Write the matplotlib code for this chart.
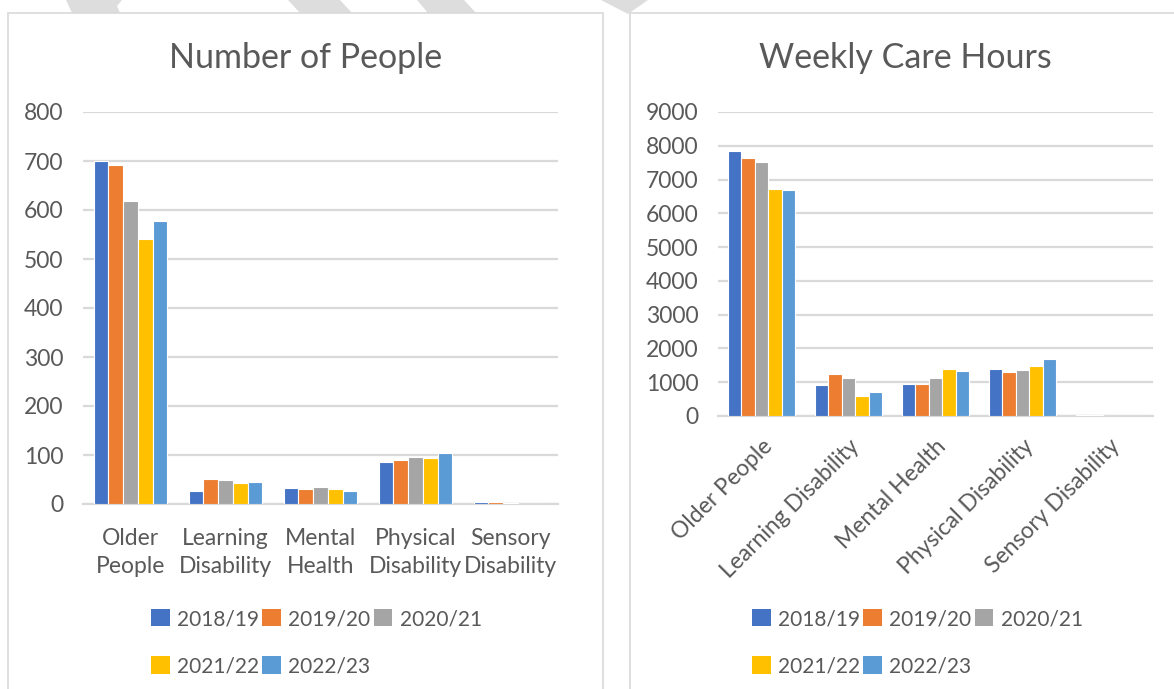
import numpy as np
import matplotlib
matplotlib.use("Agg")
import matplotlib.pyplot as plt
from matplotlib.patches import Rectangle, Polygon, Patch

#######################################################
CATEGORIES = ["Older People", "Learning Disability", "Mental Health",
              "Physical Disability", "Sensory Disability"]
LEFT_LABELS = ["Older\nPeople", "Learning\nDisability", "Mental\nHealth",
               "Physical\nDisability", "Sensory\nDisability"]
YEARS = ["2018/19", "2019/20", "2020/21", "2021/22", "2022/23"]
COLORS = ["#4472C4", "#ED7D31", "#A5A5A5", "#FFC000", "#5B9BD5"]

# number of people, one list per year (order of CATEGORIES)
people_1819 = [699, 26, 32, 85, 5]
people_1920 = [691, 52, 30, 89, 5]
people_2021 = [618, 49, 34, 96, 3]
people_2122 = [540, 43, 30, 94, 0]
people_2223 = [577, 44, 26, 105, 0]

# weekly care hours
hours_1819 = [7850, 930, 960, 1390, 20]
hours_1920 = [7650, 1240, 940, 1290, 15]
hours_2021 = [7520, 1120, 1120, 1360, 10]
hours_2122 = [6720, 580, 1380, 1480, 0]
hours_2223 = [6700, 710, 1330, 1700, 0]
#######################################################

TEXT = "#595959"
GRID = "#D9D9D9"
W, H = 1174, 689
FS = 16.5

plt.rcParams['font.family'] = ['Lato', 'DejaVu Sans']


def px(x, y):
    # pixel coords (top-left origin) -> figure fraction
    return x / W, 1 - y / H


def draw_bars(ax, series, labels, ymax, step, rotate):
    x = np.arange(len(CATEGORIES))
    bw = 0.155
    for i, (vals, color, year) in enumerate(zip(series, COLORS, YEARS)):
        ax.bar(x + (i - 2) * bw, vals, width=bw, color=color,
               edgecolor="white", linewidth=0.8, label=year, zorder=3)
    ax.set_xlim(-0.5, len(CATEGORIES) - 0.5)
    ax.set_ylim(0, ymax)
    ax.set_yticks(np.arange(0, ymax + 1, step))
    ax.yaxis.grid(True, color=GRID, linewidth=1.6, zorder=0)
    for s in ["top", "right", "left"]:
        ax.spines[s].set_visible(False)
    ax.spines["bottom"].set_color(GRID)
    ax.spines["bottom"].set_linewidth(1.6)
    ax.tick_params(axis="both", length=0, colors=TEXT, labelsize=FS)
    ax.set_xticks(x)
    if rotate:
        ax.set_xticklabels(labels, rotation=45, ha="right",
                           rotation_mode="anchor")
        ax.tick_params(axis="x", pad=14)
    else:
        ax.set_xticklabels(labels, linespacing=1.45)
        ax.tick_params(axis="x", pad=17)


fig = plt.figure(figsize=(W / 100, H / 100), dpi=100)

# watermark fragments behind the chart boxes
for poly in [[(66, 0), (122, 0), (117, 6), (120, 13), (72, 13)],
             [(288, 0), (340, 0), (352, 13), (300, 13)],
             [(417, 0), (464, 0), (476, 13), (428, 13)],
             [(601, 0), (648, 0), (628, 14)]]:
    fig.patches.append(Polygon([px(a, b) for a, b in poly], closed=True,
                               transform=fig.transFigure, facecolor="#DDDDDD",
                               edgecolor="none", zorder=0))

# chart boxes
for (x0, x1) in [(7.5, 603.5), (629.5, 1180)]:
    fx0, fy1 = px(x0, 12.5)
    fx1, fy0 = px(x1, 700)
    fig.patches.append(Rectangle((fx0, fy0), fx1 - fx0, fy1 - fy0,
                                 transform=fig.transFigure, facecolor="white",
                                 edgecolor=GRID, linewidth=1.2, zorder=1))

ax1 = fig.add_axes([83 / W, 1 - 504 / H, (558 - 83) / W, (504 - 112) / H])
ax2 = fig.add_axes([718 / W, 1 - 416 / H, (1153 - 718) / W, (416 - 112) / H])
for ax in (ax1, ax2):
    ax.set_zorder(2)
    ax.patch.set_visible(False)

draw_bars(ax1, [people_1819, people_1920, people_2021, people_2122, people_2223],
          LEFT_LABELS, 800, 100, rotate=False)
draw_bars(ax2, [hours_1819, hours_1920, hours_2021, hours_2122, hours_2223],
          CATEGORIES, 9000, 1000, rotate=True)
ax1.tick_params(axis="y", pad=14)
ax2.tick_params(axis="y", pad=14)

fig.text(*px(306, 58), "Number of People", ha="center", va="center",
         fontsize=24.5, color=TEXT, zorder=3)
fig.text(*px(905, 58), "Weekly Care Hours", ha="center", va="center",
         fontsize=24.5, color=TEXT, zorder=3)

# legends: row-wise order 3 + 2
order = [0, 3, 1, 4, 2]
handles = [Patch(facecolor=c, edgecolor="none") for c in COLORS]
for left in (151, 752):
    leg = fig.legend([handles[i] for i in order], [YEARS[i] for i in order],
                     ncol=3, loc="upper left", bbox_to_anchor=px(left, 609),
                     frameon=False, fontsize=15, handlelength=0.9,
                     handleheight=0.9, handletextpad=0.35, columnspacing=0.15,
                     labelspacing=1.3, borderpad=0, borderaxespad=0)
    leg.set_zorder(3)
    for t in leg.get_texts():
        t.set_color(TEXT)

fig.savefig("out.png", dpi=100)
